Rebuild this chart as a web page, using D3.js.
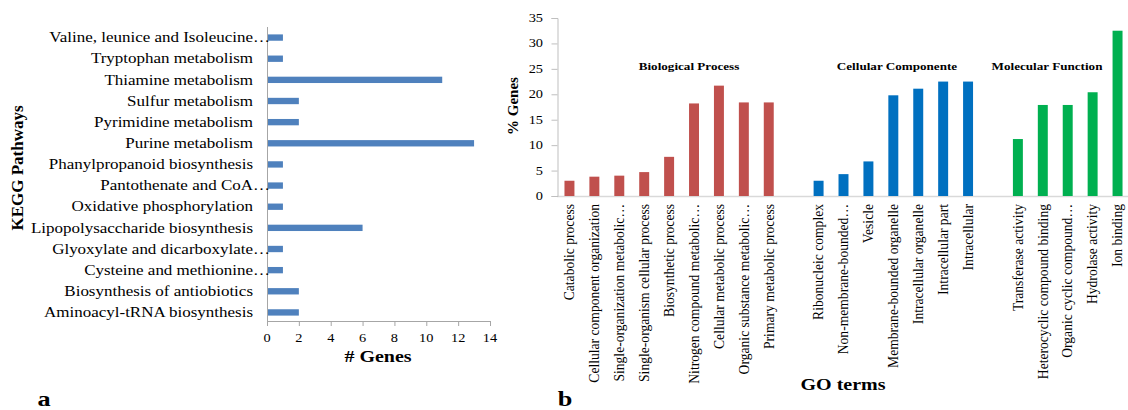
<!DOCTYPE html>
<html>
<head>
<meta charset="utf-8">
<script src="https://cdn.jsdelivr.net/npm/d3@7"></script>
<style>
  html, body { margin: 0; padding: 0; background: #fff; }
  svg { display: block; }
  text { font-family: "Liberation Serif", "Times New Roman", serif; fill: #000; }
</style>
</head>
<body>
<svg id="chart" width="1128" height="410"></svg>
<script>
// ---- Panel a: KEGG pathways ----
const keggPathways = [
  "Valine, leunice and Isoleucine…",
  "Tryptophan metabolism",
  "Thiamine metabolism",
  "Sulfur metabolism",
  "Pyrimidine metabolism",
  "Purine metabolism",
  "Phanylpropanoid biosynthesis",
  "Pantothenate and CoA…",
  "Oxidative phosphorylation",
  "Lipopolysaccharide biosynthesis",
  "Glyoxylate and dicarboxylate…",
  "Cysteine and methionine…",
  "Biosynthesis of antiobiotics",
  "Aminoacyl-tRNA biosynthesis"
];
const keggGenes = [1, 1, 11, 2, 2, 13, 1, 1, 1, 6, 1, 1, 2, 2];
const keggTicks = [0, 2, 4, 6, 8, 10, 12, 14];

// ---- Panel b: GO terms ----
const bioTerms = [
  "Catabolic process",
  "Cellular component organization",
  "Single-organization metabolic…",
  "Single-organism cellular process",
  "Biosynthetic process",
  "Nitrogen compound metabolic…",
  "Cellular metabolic process",
  "Organic substance metabolic…",
  "Primary metabolic process"
];
const bioValues = [3.0, 3.8, 4.0, 4.7, 7.7, 18.2, 21.7, 18.4, 18.4];

const cellTerms = [
  "Ribonucleic complex",
  "Non-membrane-bounded…",
  "Vesicle",
  "Membrane-bounded organelle",
  "Intracellular organelle",
  "Intracellular part",
  "Intracellular"
];
const cellValues = [3.0, 4.3, 6.8, 19.8, 21.1, 22.5, 22.5];

const molTerms = [
  "Transferase activity",
  "Heterocyclic compound binding",
  "Organic cyclic compound…",
  "Hydrolase activity",
  "Ion binding"
];
const molValues = [11.2, 17.9, 17.9, 20.4, 32.5];

const goGroups = ["Biological Process", "Cellular Componente", "Molecular Function"];
const goTicks = [0, 5, 10, 15, 20, 25, 30, 35];

const svg = d3.select("#chart");
const SX = 1.25;   // horizontal text widening

function hText(g, x, y, str, opts = {}) {
  const t = g.append("text")
    .attr("transform", `translate(${x},${y}) scale(${SX},1)`)
    .attr("text-anchor", opts.anchor || "start")
    .style("font-size", (opts.size || 13) + "px")
    .text(str);
  if (opts.bold) t.style("font-weight", "bold");
  if (opts.dy) t.attr("dy", opts.dy);
  return t;
}

// ================= Panel a =================
const ga = svg.append("g");
const xa = d3.scaleLinear().domain([0, 14]).range([267, 490]);
const ya = d3.scaleBand().domain(keggPathways).range([27, 323]).paddingInner(0.7).paddingOuter(0.35);

ga.selectAll("rect.bar").data(keggPathways).join("rect")
  .attr("class", "bar")
  .attr("x", xa(0))
  .attr("y", d => ya(d))
  .attr("width", (d, i) => xa(keggGenes[i]) - xa(0))
  .attr("height", ya.bandwidth())
  .attr("fill", "#4f81bd");

// value axis
const axA = ga.append("g").attr("transform", "translate(0,321)")
  .call(d3.axisBottom(xa).tickValues(keggTicks).tickSize(5).tickFormat(""));
axA.select(".domain").attr("stroke", "#a6a6a6");
axA.selectAll(".tick line").attr("stroke", "#a6a6a6");
keggTicks.forEach(v => hText(ga, xa(v), 342, v, { anchor: "middle", size: 11.5 }));

// category axis line
ga.append("line").attr("x1", xa(0) + 0.5).attr("x2", xa(0) + 0.5)
  .attr("y1", 27).attr("y2", 321).attr("stroke", "#a6a6a6");

// category labels (truncated names keep their ellipsis past the label edge)
keggPathways.forEach(name => {
  const yc = ya(name) + ya.bandwidth() / 2;
  const cut = name.endsWith("…");
  const base = cut ? name.slice(0, -1) : name;
  hText(ga, 253, yc, base, { anchor: "end", size: 13.6, dy: "0.35em" });
  if (cut) hText(ga, 253, yc, "…", { anchor: "start", size: 13.6, dy: "0.35em" });
});

hText(ga, 378, 362, "# Genes", { anchor: "middle", size: 16, bold: true });
ga.append("text")
  .attr("transform", "translate(23,168) rotate(-90)")
  .attr("text-anchor", "middle")
  .style("font-size", "17px").style("font-weight", "bold")
  .text("KEGG Pathways");
hText(ga, 44, 406, "a", { anchor: "middle", size: 21, bold: true });

// ================= Panel b =================
const gb = svg.append("g");
const goData = [];
const groupData = [
  { terms: bioTerms, values: bioValues, color: "#c0504d" },
  { terms: cellTerms, values: cellValues, color: "#0070c0" },
  { terms: molTerms, values: molValues, color: "#00b050" }
];
const slots = [];
groupData.forEach((grp, gi) => {
  if (gi > 0) slots.push("gap" + gi);
  grp.terms.forEach((t, i) => {
    slots.push(t);
    goData.push({ term: t, value: grp.values[i], color: grp.color });
  });
});

const xb = d3.scaleBand().domain(slots).range([557, 1130]).paddingInner(0.6).paddingOuter(0.3);
const yb = d3.scaleLinear().domain([0, 35]).range([196, 18]);

// baseline and value axis
gb.append("line").attr("x1", 557).attr("x2", 1128).attr("y1", yb(0) + 0.5).attr("y2", yb(0) + 0.5)
  .attr("stroke", "#d9d9d9").attr("stroke-width", 1.5);
const axB = gb.append("g").attr("transform", "translate(557.5,0)")
  .call(d3.axisLeft(yb).tickValues(goTicks).tickSize(6).tickFormat(""));
axB.select(".domain").attr("stroke", "#bfbfbf");
axB.selectAll(".tick line").attr("stroke", "#bfbfbf");
goTicks.forEach(v => hText(gb, 543, yb(v), v, { anchor: "end", size: 11.5, dy: "0.35em" }));

gb.selectAll("rect.bar").data(goData).join("rect")
  .attr("class", "bar")
  .attr("x", d => xb(d.term))
  .attr("y", d => yb(d.value))
  .attr("width", xb.bandwidth())
  .attr("height", d => yb(0) - yb(d.value))
  .attr("fill", d => d.color);

// rotated term labels
gb.selectAll("text.term").data(goData).join("text")
  .attr("class", "term")
  .attr("transform", d => `translate(${xb(d.term) + xb.bandwidth() / 2},204) rotate(-90)`)
  .attr("text-anchor", "end")
  .attr("dy", "0.35em")
  .style("font-size", "13.6px")
  .text(d => d.term);

// group headings
const headingX = [689, 897, 1047];
goGroups.forEach((g, i) => hText(gb, headingX[i], 70, g, { anchor: "middle", size: 10.5, bold: true }));

gb.append("text")
  .attr("transform", "translate(518,106) rotate(-90)")
  .attr("text-anchor", "middle")
  .style("font-size", "15px").style("font-weight", "bold")
  .text("% Genes");
hText(gb, 843, 390, "GO terms", { anchor: "middle", size: 16, bold: true });
hText(gb, 565, 406, "b", { anchor: "middle", size: 21, bold: true });
</script>
</body>
</html>
